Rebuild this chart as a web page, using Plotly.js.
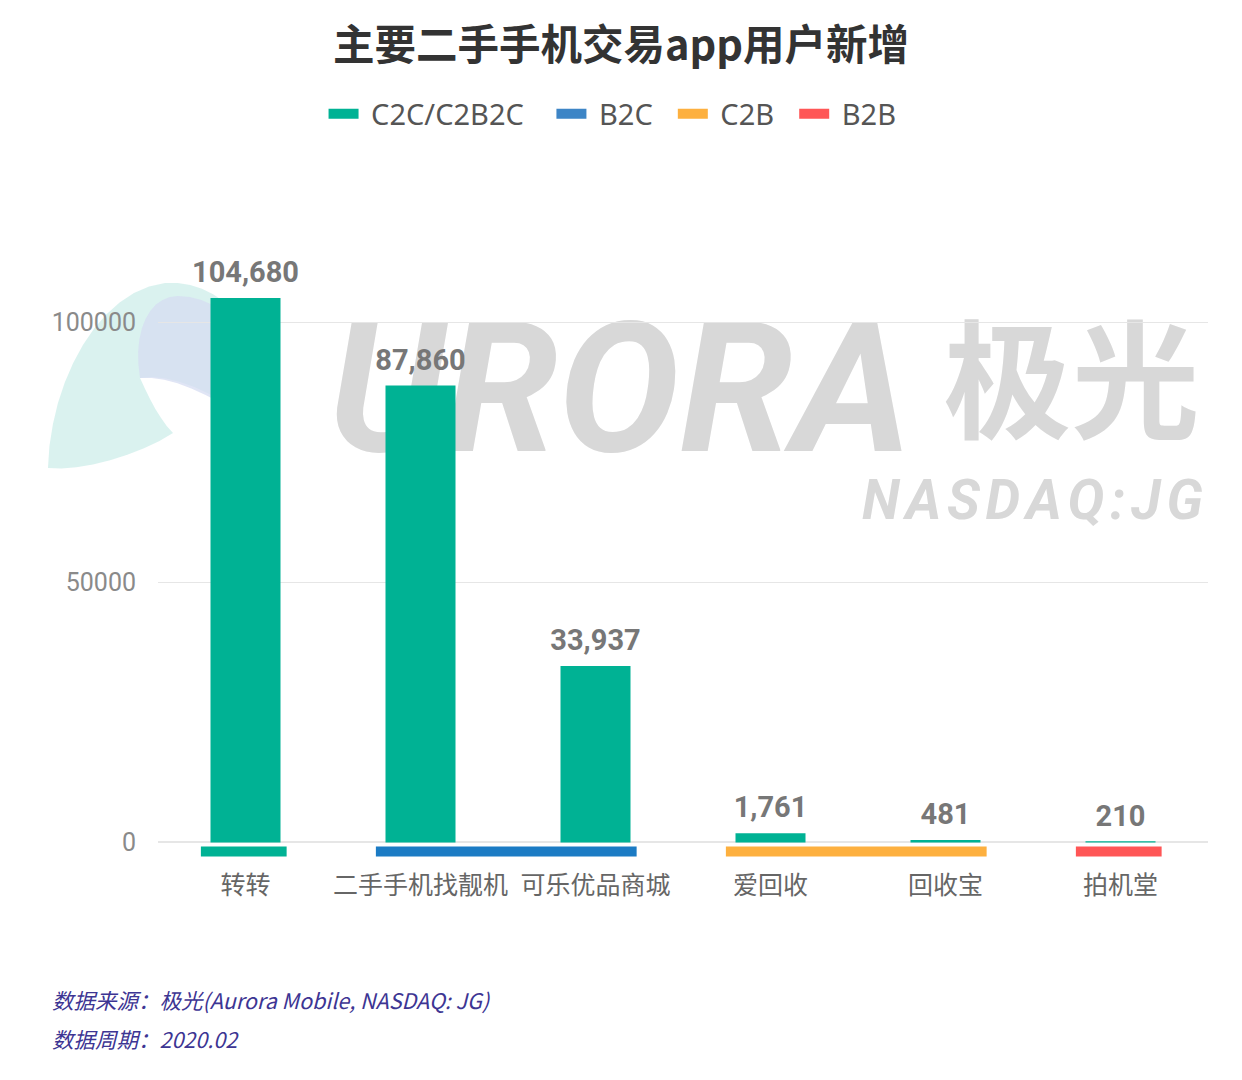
<!DOCTYPE html>
<html><head><meta charset="utf-8">
<script src="https://cdn.plot.ly/plotly-3.0.1.min.js"></script>
<style>html,body{margin:0;padding:0;background:#fff}</style>
</head><body>
<div id="chart" style="width:1242px;height:1080px"></div>
<script>
// ---- data ----
const categories = ['转转', '二手手机找靓机', '可乐优品商城', '爱回收', '回收宝', '拍机堂'];
const newUsers = [104680, 87860, 33937, 1761, 481, 210];
const groupNames = ['C2C/C2B2C', 'B2C', 'C2B', 'B2B'];
const groupFirst = [0, 1, 3, 5];
const groupLast = [0, 2, 4, 5];
const groupColors = ['#00b294', '#1b7bc4', '#fdb03f', '#ff5656'];
const legendColors = ['#00b294', '#3d85c6', '#fdb03f', '#ff5656'];
const yTickVals = [0, 50000, 100000];
const titleText = '主要二手手机交易app用户新增';
const sourceLines = ['数据来源：极光(Aurora Mobile, NASDAQ: JG)', '数据周期：2020.02'];

// ---- geometry / style ----
const W = 1242, H = 1080, ML = 158, MR = 34, MT = 260, MB = 222;
const PW = W - ML - MR, PH = H - MT - MB;
const yMin = -3000, yMax = 112000;
const bandBase = -770, bandLen = -1950;
const px = x => (x - ML) / PW;
const py = y => (H - MB - y) / PH;
const nb = '\u00A0';
const legendTrail = [3, 2, 2, 0];

const barTrace = {
  type: 'bar', x: categories, y: newUsers, width: 0.4,
  marker: {color: groupColors[0]}, showlegend: false, hoverinfo: 'skip', textposition: 'none'
};

const labelTrace = {
  type: 'scatter', mode: 'markers+text', x: categories, y: newUsers, showlegend: false,
  marker: {size: 12, color: 'rgba(0,0,0,0)'}, hoverinfo: 'skip', cliponaxis: false,
  texttemplate: '%{y:,}', textposition: 'top center',
  textfont: {family: 'Roboto, sans-serif', size: 29, color: '#777777', weight: 700}
};

const bandTraces = groupNames.map((g, i) => ({
  type: 'bar', name: g, x: [categories[groupFirst[i]]], base: [bandBase], y: [bandLen],
  offset: -0.255, width: [groupLast[i] - groupFirst[i] + 0.49], showlegend: false,
  marker: {color: groupColors[i]}, hoverinfo: 'skip', textposition: 'none'
}));

const legendTraces = groupNames.map((g, i) => ({
  type: 'scatter', mode: 'lines', x: [null], y: [null],
  name: nb + g + nb.repeat(legendTrail[i]),
  line: {color: legendColors[i], width: 10}, hoverinfo: 'skip'
}));

function pathFrom(pts) {
  return 'M' + pts.map(p => px(p[0]).toFixed(4) + ',' + py(p[1]).toFixed(4)).join(' L') + ' Z';
}
function bez(p0, c1, c2, p1, n) {
  const out = [];
  for (let k = 0; k <= n; k++) {
    const t = k / n, u = 1 - t;
    out.push([u*u*u*p0[0] + 3*u*u*t*c1[0] + 3*u*t*t*c2[0] + t*t*t*p1[0],
              u*u*u*p0[1] + 3*u*u*t*c1[1] + 3*u*t*t*c2[1] + t*t*t*p1[1]]);
  }
  return out;
}
const blobOuter = [].concat(
  bez([48, 468], [50, 380], [100, 290], [165, 283], 12),
  bez([165, 283], [200, 280], [230, 300], [250, 330], 8),
  [[250, 420]],
  bez([250, 420], [220, 395], [170, 372], [140, 378], 8),
  bez([140, 378], [150, 400], [160, 420], [173, 433], 6),
  bez([173, 433], [140, 455], [80, 472], [48, 468], 8)
);
const blobInner = [].concat(
  bez([140, 378], [132, 330], [150, 296], [178, 296], 10),
  bez([178, 296], [210, 296], [240, 320], [250, 340], 8),
  [[250, 420]],
  bez([250, 420], [210, 395], [170, 375], [140, 378], 8)
);

const wmColor = '#d8d8d8';
const hs = '\u200A';
const shapes = [
  {type: 'path', xref: 'paper', yref: 'paper', layer: 'below', path: pathFrom(blobOuter),
   fillcolor: 'rgba(205,238,234,0.75)', line: {width: 0}},
  {type: 'path', xref: 'paper', yref: 'paper', layer: 'below', path: pathFrom(blobInner),
   fillcolor: 'rgba(214,220,242,0.75)', line: {width: 0}},
  {type: 'rect', xref: 'paper', yref: 'paper', layer: 'below',
   x0: px(322), x1: px(918), y0: py(440), y1: py(310),
   line: {width: 0}, fillcolor: 'rgba(0,0,0,0)',
   label: {text: 'URORA', textposition: 'middle center',
     font: {family: 'Roboto, sans-serif', size: 182, color: wmColor, weight: 700, style: 'italic'}}},
  {type: 'rect', xref: 'paper', yref: 'paper', layer: 'below',
   x0: px(935), x1: px(1208), y0: py(458), y1: py(328),
   line: {width: 0}, fillcolor: 'rgba(0,0,0,0)',
   label: {text: '极光', textposition: 'middle center',
     font: {family: 'Noto Sans CJK SC, sans-serif', size: 128, color: wmColor, weight: 700}}},
  {type: 'rect', xref: 'paper', yref: 'paper', layer: 'below',
   x0: px(855), x1: px(1210), y0: py(526), y1: py(466),
   line: {width: 0}, fillcolor: 'rgba(0,0,0,0)',
   label: {text: ['N','A','S','D','A','Q',':','J','G'].join(hs), textposition: 'middle center',
     font: {family: 'Roboto, sans-serif', size: 55, color: wmColor, weight: 700, style: 'italic'}}}
];

const annotations = sourceLines.map((t, i) => ({
  text: t, xref: 'paper', yref: 'paper', x: px(50), y: py(999 + i * 39),
  xanchor: 'left', yanchor: 'middle', showarrow: false,
  font: {family: 'Noto Sans CJK SC, sans-serif', size: 21.5, color: '#3d3593', style: 'italic'}
}));

const layout = {
  width: W, height: H, margin: {l: ML, r: MR, t: MT, b: MB},
  paper_bgcolor: '#ffffff', plot_bgcolor: '#ffffff',
  barmode: 'overlay', bargap: 0.6,
  title: {text: titleText, xref: 'container', x: 0.5, xanchor: 'center',
    yref: 'container', y: 1 - 45 / H, yanchor: 'middle',
    font: {family: 'Noto Sans CJK SC, sans-serif', size: 41.5, color: '#333333', weight: 700}},
  legend: {orientation: 'h', xref: 'container', yref: 'container', x: 0.4932, xanchor: 'center',
    y: 1 - 114 / H, yanchor: 'middle', itemwidth: 30,
    font: {family: 'Noto Sans, Roboto, sans-serif', size: 29, color: '#555555'}},
  xaxis: {type: 'category', showgrid: false, zeroline: false, showline: false, ticks: '',
    ticklabelstandoff: 10,
    tickfont: {family: 'Noto Sans CJK SC, sans-serif', size: 25, color: '#666666'}},
  yaxis: {range: [yMin, yMax], tickvals: yTickVals, ticktext: yTickVals.map(String),
    showgrid: true, gridcolor: '#e6e6e6', gridwidth: 1.5,
    zeroline: true, zerolinecolor: '#e6e6e6', zerolinewidth: 2,
    showline: false, ticks: '', ticklabelstandoff: 21,
    tickfont: {family: 'Roboto, sans-serif', size: 25, color: '#8a8a8a'}},
  shapes: shapes, annotations: annotations, hovermode: false
};

Plotly.newPlot('chart', [barTrace].concat(bandTraces, [labelTrace], legendTraces), layout,
  {displayModeBar: false, staticPlot: true});
</script>
</body></html>
